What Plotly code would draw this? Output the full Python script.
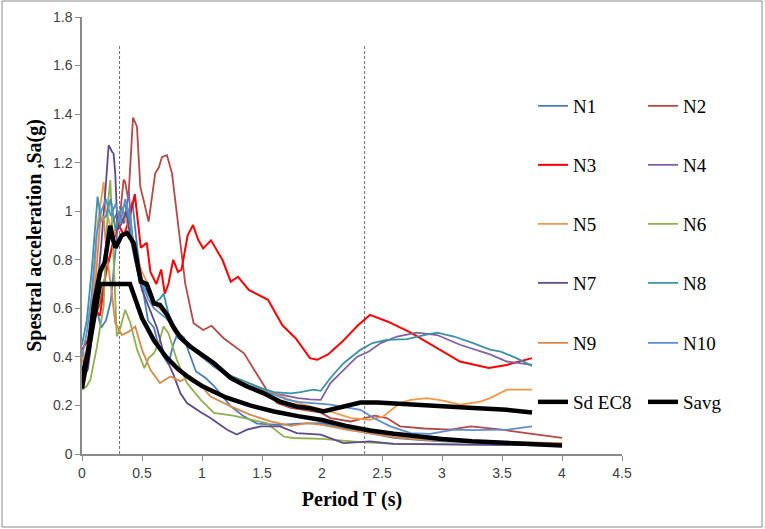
import plotly.graph_objects as go

# ---------------- data ----------------
N1_T = [0, 0.04, 0.08, 0.12, 0.16, 0.2, 0.24, 0.27, 0.3, 0.34, 0.38, 0.42, 0.46, 0.5, 0.55, 0.6, 0.64, 0.68, 0.72, 0.76, 0.8, 0.85, 0.89, 0.95, 1.03, 1.1, 1.15, 1.24, 1.35, 1.46, 1.65, 1.8, 1.99, 2.07, 2.2, 2.32, 2.45, 2.6, 2.8, 3.0, 3.3, 3.6, 4.0]
N1_Sa = [0.42, 0.36, 0.50, 0.60, 0.52, 0.55, 0.63, 0.80, 0.95, 1.0, 0.97, 1.04, 0.85, 0.70, 0.55, 0.52, 0.44, 0.40, 0.37, 0.45, 0.50, 0.48, 0.42, 0.34, 0.313, 0.28, 0.25, 0.196, 0.155, 0.125, 0.12, 0.125, 0.127, 0.12, 0.105, 0.093, 0.08, 0.066, 0.058, 0.052, 0.048, 0.045, 0.042]

N2_T = [0, 0.05, 0.1, 0.15, 0.2, 0.25, 0.3, 0.32, 0.347, 0.36, 0.386, 0.405, 0.425, 0.458, 0.486, 0.513, 0.555, 0.61, 0.64, 0.667, 0.708, 0.75, 0.79, 0.82, 0.86, 0.93, 1.01, 1.08, 1.18, 1.35, 1.47, 1.555, 1.625, 1.74, 1.99, 2.07, 2.24, 2.44, 2.54, 2.65, 2.85, 3.07, 3.24, 3.5, 3.75, 4.0]
N2_Sa = [0.38, 0.40, 0.55, 0.62, 0.75, 0.85, 0.95, 1.0, 1.13, 1.12, 1.046, 1.20, 1.386, 1.348, 1.10, 1.046, 0.957, 1.156, 1.18, 1.224, 1.231, 1.156, 1.00, 0.88, 0.703, 0.539, 0.511, 0.528, 0.477, 0.415, 0.319, 0.251, 0.21, 0.19, 0.17, 0.148, 0.134, 0.158, 0.148, 0.114, 0.105, 0.10, 0.114, 0.10, 0.083, 0.066]

N3_T = [0, 0.05, 0.1, 0.15, 0.2, 0.25, 0.3, 0.35, 0.4, 0.44, 0.47, 0.49, 0.54, 0.57, 0.62, 0.66, 0.69, 0.72, 0.76, 0.8, 0.83, 0.88, 0.925, 0.97, 1.01, 1.075, 1.17, 1.24, 1.30, 1.39, 1.55, 1.67, 1.78, 1.90, 1.96, 2.05, 2.17, 2.30, 2.40, 2.55, 2.74, 2.96, 3.15, 3.39, 3.54, 3.75]
N3_Sa = [0.43, 0.47, 0.60, 0.57, 0.75, 0.85, 0.95, 0.90, 0.98, 1.07, 0.95, 0.85, 0.87, 0.75, 0.70, 0.76, 0.66, 0.70, 0.80, 0.75, 0.76, 0.90, 0.943, 0.88, 0.847, 0.88, 0.80, 0.71, 0.73, 0.676, 0.635, 0.53, 0.477, 0.395, 0.388, 0.41, 0.463, 0.53, 0.573, 0.545, 0.50, 0.436, 0.381, 0.354, 0.367, 0.395]

N4_T = [0, 0.05, 0.1, 0.15, 0.2, 0.25, 0.3, 0.35, 0.39, 0.42, 0.46, 0.5, 0.55, 0.6, 0.65, 0.7, 0.75, 0.8, 0.85, 0.9, 1.0, 1.1, 1.2, 1.3, 1.4, 1.5, 1.6, 1.7, 1.8, 1.9, 1.99, 2.07, 2.18, 2.29, 2.39, 2.49, 2.625, 2.79, 2.96, 3.15, 3.4, 3.54, 3.75]
N4_Sa = [0.33, 0.42, 0.58, 0.72, 0.85, 0.95, 1.0, 0.95, 1.08, 0.88, 0.80, 0.72, 0.68, 0.62, 0.60, 0.58, 0.52, 0.48, 0.46, 0.44, 0.40, 0.36, 0.33, 0.30, 0.28, 0.265, 0.25, 0.24, 0.23, 0.225, 0.223, 0.292, 0.347, 0.40, 0.422, 0.457, 0.484, 0.50, 0.49, 0.45, 0.41, 0.381, 0.367]

N5_T = [0, 0.05, 0.1, 0.13, 0.16, 0.18, 0.2, 0.23, 0.27, 0.3, 0.35, 0.4, 0.45, 0.5, 0.55, 0.6, 0.65, 0.7, 0.75, 0.8, 0.85, 0.9, 1.0, 1.1, 1.2, 1.3, 1.4, 1.5, 1.6, 1.7, 1.8, 1.9, 2.07, 2.24, 2.40, 2.51, 2.65, 2.74, 2.875, 3.01, 3.15, 3.32, 3.40, 3.54, 3.75]
N5_Sa = [0.38, 0.45, 0.70, 0.95, 1.05, 1.12, 1.0, 0.95, 0.90, 1.0, 0.98, 0.92, 0.82, 0.75, 0.70, 0.63, 0.60, 0.57, 0.52, 0.49, 0.47, 0.44, 0.41, 0.37, 0.33, 0.31, 0.29, 0.27, 0.25, 0.23, 0.21, 0.196, 0.175, 0.148, 0.141, 0.155, 0.21, 0.223, 0.23, 0.22, 0.203, 0.216, 0.23, 0.265, 0.265]

N6_T = [0, 0.04, 0.07, 0.1, 0.125, 0.15, 0.18, 0.2, 0.22, 0.236, 0.25, 0.27, 0.29, 0.32, 0.36, 0.40, 0.46, 0.52, 0.555, 0.60, 0.64, 0.68, 0.72, 0.79, 0.875, 0.99, 1.10, 1.26, 1.40, 1.54, 1.68, 1.76, 2.0, 2.3, 2.6, 3.0, 3.5, 4.0]
N6_Sa = [0.265, 0.28, 0.306, 0.38, 0.443, 0.52, 0.607, 0.85, 1.05, 1.128, 0.95, 0.70, 0.484, 0.52, 0.594, 0.545, 0.429, 0.354, 0.395, 0.415, 0.457, 0.525, 0.498, 0.388, 0.292, 0.223, 0.169, 0.158, 0.141, 0.127, 0.072, 0.066, 0.062, 0.05, 0.042, 0.04, 0.037, 0.035]

N7_T = [0, 0.05, 0.1, 0.15, 0.19, 0.222, 0.25, 0.263, 0.277, 0.297, 0.33, 0.37, 0.40, 0.44, 0.5, 0.56, 0.625, 0.68, 0.76, 0.82, 0.875, 0.99, 1.07, 1.21, 1.29, 1.375, 1.49, 1.65, 1.79, 1.99, 2.07, 2.18, 2.40, 2.6, 3.0, 3.5, 4.0]
N7_Sa = [0.30, 0.35, 0.55, 0.80, 1.05, 1.272, 1.245, 1.238, 1.156, 0.923, 0.95, 1.0, 0.90, 0.80, 0.676, 0.60, 0.52, 0.415, 0.33, 0.25, 0.21, 0.172, 0.148, 0.10, 0.08, 0.10, 0.114, 0.114, 0.086, 0.08, 0.066, 0.045, 0.052, 0.042, 0.04, 0.038, 0.035]

N8_T = [0, 0.04, 0.08, 0.11, 0.13, 0.16, 0.2, 0.24, 0.28, 0.32, 0.36, 0.4, 0.45, 0.5, 0.55, 0.6, 0.65, 0.68, 0.72, 0.78, 0.85, 0.9, 1.0, 1.1, 1.2, 1.3, 1.4, 1.5, 1.6, 1.74, 1.82, 1.93, 1.99, 2.07, 2.18, 2.32, 2.42, 2.54, 2.71, 2.85, 2.96, 3.10, 3.26, 3.40, 3.49, 3.62, 3.75]
N8_Sa = [0.45, 0.55, 0.75, 0.95, 1.06, 0.96, 0.98, 1.05, 0.92, 1.0, 1.03, 0.95, 0.80, 0.72, 0.66, 0.62, 0.64, 0.66, 0.58, 0.50, 0.46, 0.44, 0.40, 0.37, 0.33, 0.31, 0.29, 0.27, 0.255, 0.25, 0.255, 0.265, 0.26, 0.313, 0.374, 0.429, 0.457, 0.47, 0.473, 0.49, 0.50, 0.484, 0.457, 0.43, 0.422, 0.395, 0.363]

N9_T = [0, 0.04, 0.08, 0.12, 0.15, 0.18, 0.21, 0.24, 0.277, 0.333, 0.39, 0.444, 0.5, 0.57, 0.65, 0.736, 0.82, 0.90, 0.99, 1.07, 1.24, 1.40, 1.57, 1.74, 1.875, 2.0, 2.2, 2.4, 2.6, 2.8, 3.0, 3.5, 4.0]
N9_Sa = [0.38, 0.36, 0.55, 0.75, 0.95, 0.98, 0.80, 0.70, 0.539, 0.49, 0.504, 0.525, 0.429, 0.347, 0.292, 0.319, 0.30, 0.322, 0.285, 0.237, 0.196, 0.162, 0.134, 0.116, 0.127, 0.12, 0.10, 0.085, 0.07, 0.06, 0.055, 0.05, 0.045]

N10_T = [0, 0.04, 0.08, 0.12, 0.16, 0.2, 0.24, 0.28, 0.32, 0.36, 0.4, 0.45, 0.5, 0.55, 0.6, 0.65, 0.7, 0.75, 0.8, 0.85, 0.9, 1.0, 1.1, 1.2, 1.3, 1.4, 1.5, 1.6, 1.7, 1.8, 1.9, 2.07, 2.32, 2.43, 2.57, 2.74, 2.90, 3.10, 3.26, 3.54, 3.75]
N10_Sa = [0.40, 0.50, 0.65, 0.90, 1.0, 1.05, 0.98, 1.03, 0.95, 1.05, 0.98, 0.78, 0.70, 0.64, 0.60, 0.58, 0.56, 0.53, 0.48, 0.47, 0.45, 0.40, 0.36, 0.325, 0.30, 0.28, 0.26, 0.245, 0.225, 0.215, 0.21, 0.203, 0.182, 0.148, 0.114, 0.086, 0.083, 0.10, 0.098, 0.10, 0.114]

SdEC8_T = [0, 0.15, 0.4, 0.5, 0.6, 0.7, 0.8, 0.9, 1.0, 1.2, 1.4, 1.6, 1.8, 2.0, 2.2, 2.4, 2.6, 2.8, 3.0, 3.25, 3.5, 3.75, 4.0]
SdEC8_Sa = [0.27, 0.70, 0.70, 0.56, 0.467, 0.40, 0.35, 0.311, 0.28, 0.233, 0.20, 0.175, 0.156, 0.14, 0.116, 0.097, 0.083, 0.071, 0.062, 0.053, 0.046, 0.040, 0.035]

Savg_T = [0, 0.05, 0.1, 0.15, 0.19, 0.21, 0.235, 0.26, 0.28, 0.33, 0.375, 0.43, 0.47, 0.49, 0.54, 0.6, 0.65, 0.71, 0.76, 0.82, 0.90, 0.99, 1.10, 1.24, 1.375, 1.51, 1.65, 1.79, 1.90, 2.01, 2.18, 2.32, 2.46, 2.74, 3.01, 3.26, 3.54, 3.75]
Savg_Sa = [0.32, 0.42, 0.62, 0.75, 0.79, 0.85, 0.94, 0.88, 0.85, 0.90, 0.91, 0.87, 0.77, 0.71, 0.70, 0.62, 0.614, 0.573, 0.525, 0.48, 0.443, 0.41, 0.374, 0.313, 0.278, 0.251, 0.216, 0.196, 0.189, 0.175, 0.196, 0.212, 0.212, 0.203, 0.196, 0.189, 0.182, 0.171]

# corner periods marked with dashed verticals
marker_T = [0.313, 2.355]
marker_top = 1.68

# x / y tick values
x_ticks = [0, 0.5, 1, 1.5, 2, 2.5, 3, 3.5, 4, 4.5]
y_ticks = [0, 0.2, 0.4, 0.6, 0.8, 1, 1.2, 1.4, 1.6, 1.8]

# ---------------- styling ----------------
series = [
    ("N1", N1_T, N1_Sa, "#4A7EBB", 1.8),
    ("N2", N2_T, N2_Sa, "#B24A47", 1.8),
    ("N3", N3_T, N3_Sa, "#FF0000", 2.0),
    ("N4", N4_T, N4_Sa, "#7F63A1", 1.8),
    ("N5", N5_T, N5_Sa, "#F79646", 1.8),
    ("N6", N6_T, N6_Sa, "#8EB04F", 1.8),
    ("N7", N7_T, N7_Sa, "#5F4B8B", 1.8),
    ("N8", N8_T, N8_Sa, "#3A91A8", 1.8),
    ("N9", N9_T, N9_Sa, "#D8894C", 1.8),
    ("N10", N10_T, N10_Sa, "#5B8FD0", 1.8),
    ("Sd EC8", SdEC8_T, SdEC8_Sa, "#000000", 4.5),
    ("Savg", Savg_T, Savg_Sa, "#000000", 4.5),
]

W, H = 765, 529
L, R, T, B = 82, 143, 17, 75
pw, ph = W - L - R, H - T - B

def px2paper_x(px):
    return (px - L) / pw

def px2paper_y(py):
    return (H - B - py) / ph

fig = go.Figure()

for T0 in marker_T:
    fig.add_trace(go.Scatter(x=[T0, T0], y=[0, marker_top], mode="lines",
                             line=dict(color="#6f6f6f", width=1, dash="3px,2px"),
                             showlegend=False, hoverinfo="skip"))

row_y = [106, 165, 224, 283, 343, 402]
col_x = [533, 643]
legend_layouts = {}
for i, (name, xs, ys, color, w) in enumerate(series):
    lid = "legend" if i == 0 else f"legend{i+1}"
    fig.add_trace(go.Scatter(x=xs, y=ys, mode="lines", name=name,
                             line=dict(color=color, width=w),
                             legend=lid, showlegend=True))
    r, c = divmod(i, 2)
    legend_layouts[lid] = dict(
        x=px2paper_x(col_x[c]), y=px2paper_y(row_y[r]),
        xanchor="left", yanchor="middle",
        bgcolor="rgba(0,0,0,0)", borderwidth=0,
        font=dict(family="Liberation Serif", size=19, color="#000000"),
    )

fig.update_layout(**legend_layouts)

fig.update_layout(
    width=W, height=H,
    margin=dict(l=L, r=R, t=T, b=B, autoexpand=False),
    paper_bgcolor="white", plot_bgcolor="white",
    font=dict(family="Liberation Sans", size=14, color="#404040"),
    xaxis=dict(range=[0, 4.5], tickvals=x_ticks, showgrid=False, zeroline=False,
               showline=True, linecolor="#8a8a8a", linewidth=1.5,
               ticks="outside", ticklen=5, tickcolor="#8a8a8a",
               tickfont=dict(family="Liberation Sans", size=14, color="#404040"),
               title=dict(text="<b>Period T (s)</b>", standoff=12,
                          font=dict(family="Liberation Serif", size=20, color="#000000"))),
    yaxis=dict(range=[0, 1.8], tickvals=y_ticks, showgrid=False, zeroline=False,
               showline=True, linecolor="#8a8a8a", linewidth=1.5,
               ticks="outside", ticklen=5, tickcolor="#8a8a8a",
               tickfont=dict(family="Liberation Sans", size=14, color="#404040"),
               title=dict(text="<b>Spestral acceleration ,Sa(g)</b>", standoff=6,
                          font=dict(family="Liberation Serif", size=20, color="#000000"))),
    shapes=[dict(type="rect", xref="paper", yref="paper",
                 x0=px2paper_x(2), x1=px2paper_x(762),
                 y0=px2paper_y(527), y1=px2paper_y(1),
                 line=dict(color="#8a8a8a", width=1), fillcolor="rgba(0,0,0,0)",
                 layer="below")],
)

fig.write_html("out.html")
